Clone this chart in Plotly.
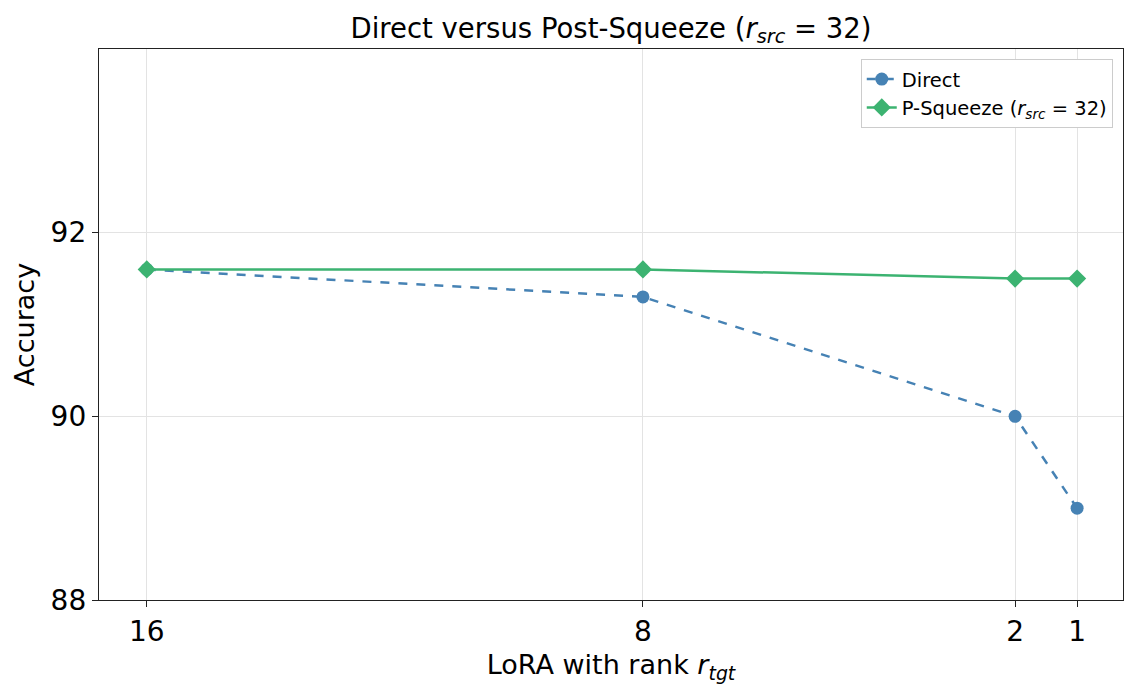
import plotly.graph_objects as go

ranks = [16, 8, 2, 1]
direct = [91.6, 91.3, 90.0, 89.0]
psqueeze = [91.6, 91.6, 91.5, 91.5]
y_ticks = [88, 90, 92]

FONT = "DejaVu Sans"
W, H = 1129, 691  # page body has an 8px margin
fig = go.Figure()
fig.add_trace(go.Scatter(
    x=ranks, y=direct, mode="lines+markers", name="Direct",
    line=dict(color="#4682b4", width=2.5, dash="dash"),
    marker=dict(symbol="circle", size=13, color="#4682b4"),
))
fig.add_trace(go.Scatter(
    x=ranks, y=psqueeze, mode="lines+markers",
    name="P-Squeeze (<i>r</i><sub><i>src</i></sub> = 32)",
    line=dict(color="#3cb371", width=2.5),
    marker=dict(symbol="diamond", size=14, color="#3cb371"),
))
fig.update_layout(
    width=W, height=H,
    margin=dict(l=91, r=14, t=41, b=99),
    paper_bgcolor="white", plot_bgcolor="white",
    font=dict(family=FONT, color="black"),
    title=dict(text="Direct versus Post-Squeeze (<i>r</i><sub><i>src</i></sub> = 32)",
               x=0.5, xanchor="center", xref="paper",
               y=1 - 20 / H, yanchor="middle", yref="container",
               font=dict(size=27.5)),
    showlegend=True,
    legend=dict(x=0.990, y=0.982, xanchor="right", yanchor="top",
                bgcolor="white", bordercolor="#cccccc", borderwidth=1,
                font=dict(size=19.5)),
)
fig.update_xaxes(
    range=[16.77, 0.26], tickvals=ranks, ticktext=[str(r) for r in ranks],
    showgrid=True, gridcolor="#e3e3e3", gridwidth=1,
    showline=True, linecolor="#222222", linewidth=1.3, mirror=True,
    ticks="outside", ticklen=6, tickcolor="#222222",
    tickfont=dict(size=28), zeroline=False,
    title=dict(text="LoRA with rank <i>r</i><sub><i>tgt</i></sub>", font=dict(size=27), standoff=8),
)
fig.update_yaxes(
    range=[88, 94.0], tickvals=y_ticks,
    showgrid=True, gridcolor="#e3e3e3", gridwidth=1,
    showline=True, linecolor="#222222", linewidth=1.3, mirror=True,
    ticks="outside", ticklen=6, tickcolor="#222222",
    tickfont=dict(size=28), zeroline=False,
    title=dict(text="Accuracy", font=dict(size=27), standoff=8),
)
fig.write_html("out.html")
